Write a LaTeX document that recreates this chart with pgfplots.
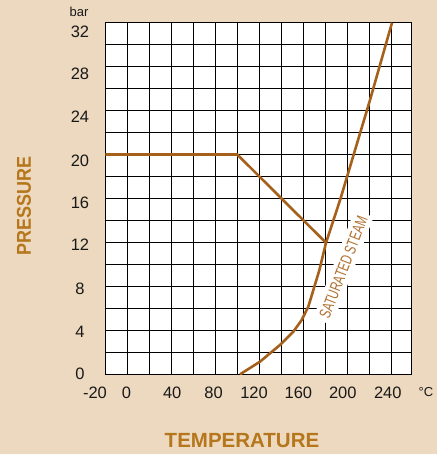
\documentclass[border=0pt]{standalone}
\usepackage{pgfplots}
\pgfplotsset{compat=1.18}
\usepackage{fontspec}
\setmainfont{Liberation Sans}
\newfontfamily\narrowfont[FakeStretch=0.7]{Liberation Sans}
\definecolor{bg}{HTML}{EDD9BF}
\definecolor{curve}{HTML}{A5601C}
\definecolor{ttl}{HTML}{B5761C}
\definecolor{lbl}{HTML}{B07030}
\begin{document}
\begin{tikzpicture}
\fill[bg] (0pt,0pt) rectangle (437pt,454pt);
\path[use as bounding box] (0pt,0pt) rectangle (437pt,454pt);
\begin{axis}[
  name=ax,
  at={(105.3pt,79.7pt)}, anchor=south west,
  scale only axis, width=306.4pt, height=351.6pt,
  xmin=-20, xmax=258.5, ymin=0, ymax=32,
  axis background/.style={fill=white},
  axis line style={black, line width=0.9pt},
  xtick={-0.7,40.8,78.5,115.2,155.5,195.9,236.8},
  xticklabels={0,40,80,120,160,200,240},
  ytick={0,3.85,7.76,11.77,15.65,19.43,23.41,27.33,31.18},
  yticklabels={0,4,8,12,16,20,24,28,32},
  minor xtick={0,20,...,240},
  minor ytick={2,4,...,30},
  xminorgrids=true, yminorgrids=true,
  xmajorgrids=false, ymajorgrids=false,
  minor grid style={black, line width=0.85pt},
  major tick length=0pt, minor tick length=0pt,
  tick label style={font=\fontsize{16.5}{18}\selectfont, text=black!90},
  xticklabel style={anchor=center, yshift=-18.2pt},
  yticklabel style={anchor=center, xshift=-25.3pt},
  clip=true,
]
\addplot[curve, line width=2.6pt, line join=round] coordinates {
  (-20,20) (100,20) (180.6,11.97)
};
\node[rotate=69, fill=white, inner xsep=4pt, inner ysep=4.5pt, text=lbl,
      font=\narrowfont\fontsize{16}{16}\selectfont] at (axis cs:196.4,9.72)
      {SATURATED STEAM};
\addplot[curve, line width=2.6pt, line join=round] coordinates {
  (102.5,0) (120.6,1.15) (138.8,2.67) (150.9,3.88) (158.5,4.94)
  (164.5,6.15) (169.1,7.67) (174.6,9.49) (180.6,11.97) (193.4,15.86)
  (220.6,24.96) (240.6,32)
};
\end{axis}
\node[font=\fontsize{16.5}{18}\selectfont, text=black!90] at (95pt,61.5pt) {-20};
\node[font=\fontsize{13}{14}\selectfont, text=black!90] at (79pt,442pt) {bar};
\node[font=\fontsize{13}{14}\selectfont, text=black!90] at (426pt,61.5pt) {°C};
\node[font=\fontsize{20}{22}\bfseries, text=ttl, rotate=90] at (24pt,248pt) {\scalebox{0.9}[1]{PRESSURE}};
\node[font=\fontsize{20.5}{22}\bfseries, text=ttl] at (242pt,13.2pt) {TEMPERATURE};
\end{tikzpicture}
\end{document}
